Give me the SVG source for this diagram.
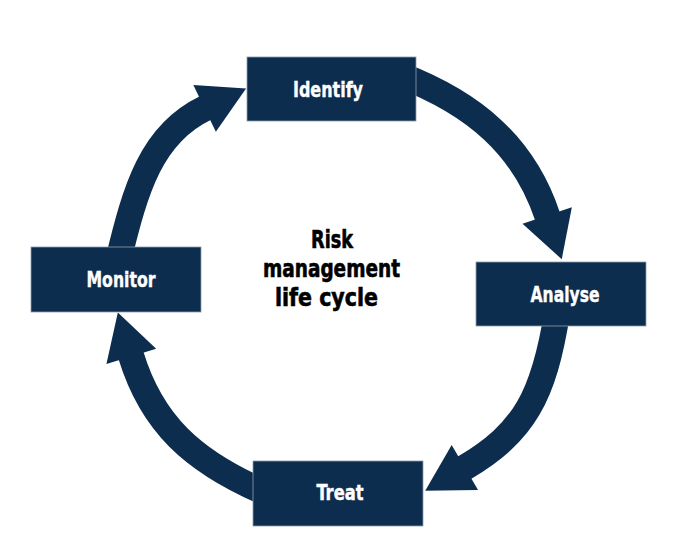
<svg xmlns="http://www.w3.org/2000/svg" width="700" height="554" viewBox="0 0 700 554">
  <style>
    .node rect { fill: #0d2d4f; stroke: #8e9cad; stroke-width: 0.8; }
    .node text { fill: #ffffff; stroke: #ffffff; stroke-width: 0.4; font-family: "DejaVu Sans Condensed", "DejaVu Sans", "Liberation Sans", sans-serif; font-stretch: condensed; font-weight: bold; font-size: 22px; text-anchor: middle; }
    .conn { fill: none; stroke: #0d2d4f; stroke-width: 26; stroke-linecap: butt; marker-end: url(#head); }
    .title { fill: #000000; stroke: #000000; stroke-width: 0.6; font-family: "DejaVu Sans Condensed", "DejaVu Sans", "Liberation Sans", sans-serif; font-stretch: condensed; font-weight: bold; font-size: 25px; text-anchor: middle; }
  </style>
  <defs>
    <marker id="head" markerUnits="userSpaceOnUse" markerWidth="50" markerHeight="54" refX="0" refY="26" orient="auto" overflow="visible">
      <path d="M-1,0 L45,26 L-1,52 Z" fill="#0d2d4f"/>
    </marker>
  </defs>
  <rect width="700" height="554" fill="#ffffff"/>
  <g id="connectors">
    <path id="identify-analyse" class="conn" d="M400,75 C474.7,103.6 524.1,146.3 547.5,216.5"/>
    <path id="analyse-treat" class="conn" d="M557.2,312.2 C543.9,396.2 524.3,432.5 464,468"/>
    <path id="treat-monitor" class="conn" d="M267.1,493.4 C191.8,461.5 151.5,422.5 131,355.5"/>
    <path id="monitor-identify" class="conn" d="M118.2,260.6 C135.4,188.6 151.3,134 205.5,108"/>
  </g>
  <g id="identify" class="node">
    <rect x="247" y="57" width="169" height="64"/>
    <text x="328" y="97" textLength="70" lengthAdjust="spacingAndGlyphs">Identify</text>
  </g>
  <g id="analyse" class="node">
    <rect x="476" y="262" width="170" height="64"/>
    <text x="565" y="302" textLength="69" lengthAdjust="spacingAndGlyphs">Analyse</text>
  </g>
  <g id="treat" class="node">
    <rect x="253" y="461" width="170" height="65"/>
    <text x="340" y="500" textLength="47" lengthAdjust="spacingAndGlyphs">Treat</text>
  </g>
  <g id="monitor" class="node">
    <rect x="31" y="247" width="170" height="65"/>
    <text x="121" y="287" textLength="69" lengthAdjust="spacingAndGlyphs">Monitor</text>
  </g>
  <g id="center-label">
    <text class="title" x="332" y="248" textLength="42" lengthAdjust="spacingAndGlyphs">Risk</text>
    <text class="title" x="331.5" y="277" textLength="137" lengthAdjust="spacingAndGlyphs">management</text>
    <text class="title" x="326.5" y="306" textLength="103" lengthAdjust="spacingAndGlyphs">life cycle</text>
  </g>
</svg>
